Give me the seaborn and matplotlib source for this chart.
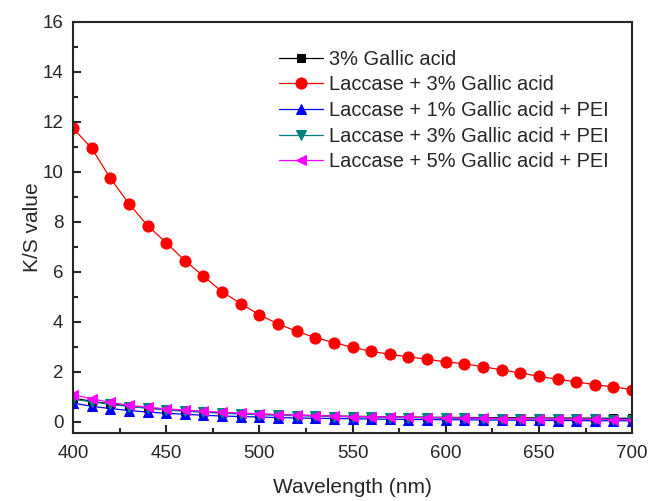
import numpy as np
import pandas as pd
import matplotlib
matplotlib.use("Agg")
import matplotlib.pyplot as plt
import seaborn as sns
from matplotlib.ticker import MultipleLocator

# wavelengths (nm)
wavelength = list(range(400, 701, 10))

# K/S values
ga3 = [0.95, 0.82, 0.72, 0.63, 0.55, 0.49, 0.44, 0.40, 0.36, 0.33, 0.30,
       0.28, 0.26, 0.25, 0.23, 0.22, 0.21, 0.20, 0.19, 0.18, 0.18, 0.17,
       0.17, 0.16, 0.16, 0.15, 0.15, 0.15, 0.14, 0.14, 0.14]
lac_ga3 = [11.75, 10.95, 9.75, 8.73, 7.85, 7.17, 6.45, 5.83, 5.20, 4.73, 4.28,
           3.92, 3.62, 3.37, 3.17, 2.98, 2.82, 2.70, 2.60, 2.50, 2.40, 2.32,
           2.20, 2.08, 1.95, 1.82, 1.70, 1.60, 1.48, 1.40, 1.28]
lac_ga1_pei = [0.75, 0.62, 0.53, 0.45, 0.39, 0.34, 0.30, 0.26, 0.23, 0.21, 0.19,
               0.17, 0.15, 0.14, 0.13, 0.12, 0.11, 0.10, 0.09, 0.09, 0.08, 0.08,
               0.07, 0.07, 0.06, 0.06, 0.05, 0.05, 0.04, 0.04, 0.04]
lac_ga3_pei = [0.90, 0.80, 0.70, 0.61, 0.54, 0.47, 0.42, 0.38, 0.34, 0.31, 0.28,
               0.26, 0.24, 0.22, 0.21, 0.19, 0.18, 0.17, 0.16, 0.15, 0.14, 0.14,
               0.13, 0.12, 0.12, 0.11, 0.11, 0.10, 0.10, 0.09, 0.09]
lac_ga5_pei = [1.08, 0.92, 0.78, 0.66, 0.58, 0.52, 0.47, 0.42, 0.38, 0.35, 0.32,
               0.29, 0.27, 0.25, 0.23, 0.21, 0.20, 0.19, 0.18, 0.17, 0.16, 0.15,
               0.14, 0.13, 0.12, 0.12, 0.11, 0.10, 0.10, 0.09, 0.09]

labels = ["3% Gallic acid", "Laccase + 3% Gallic acid",
          "Laccase + 1% Gallic acid + PEI", "Laccase + 3% Gallic acid + PEI",
          "Laccase + 5% Gallic acid + PEI"]
series = [ga3, lac_ga3, lac_ga1_pei, lac_ga3_pei, lac_ga5_pei]
colors = ["#000000", "#ff0000", "#0000ff", "#008080", "#ff00ff"]
markers = ["s", "o", "^", "v", "<"]
msizes = [6, 8, 7.5, 7.5, 7.5]

sns.set_style("ticks")
plt.rcParams["font.family"] = ["Liberation Sans", "DejaVu Sans"]

fig = plt.figure(figsize=(6.49, 5.01), dpi=100)
ax = fig.add_axes([0.1125, 0.1357, 0.8615, 0.8204])

for lab, vals, c, m, ms in zip(labels, series, colors, markers, msizes):
    df = pd.DataFrame({"Wavelength": wavelength, "KS": vals})
    sns.lineplot(data=df, x="Wavelength", y="KS", ax=ax, color=c, marker=m,
                 markersize=ms, markeredgecolor=c, linewidth=0.9, label=lab)

ax.set_xlim(400, 700)
ax.set_ylim(-0.45, 16)
ax.xaxis.set_major_locator(MultipleLocator(50))
ax.xaxis.set_minor_locator(MultipleLocator(25))
ax.yaxis.set_major_locator(MultipleLocator(2))
ax.yaxis.set_minor_locator(MultipleLocator(1))
ax.tick_params(which="both", direction="in", top=False, right=False,
               labelsize=13.5, width=1.5, pad=7)
ax.tick_params(axis="x", pad=8.5)
ax.tick_params(which="major", length=6)
ax.tick_params(which="minor", length=3.5)
for s in ax.spines.values():
    s.set_linewidth(1.5)

ax.set_xlabel("Wavelength (nm)", fontsize=15, labelpad=12)
ax.set_ylabel("K/S value", fontsize=15, labelpad=0.5)

ax.legend(loc="upper left", bbox_to_anchor=(0.355, 0.952), frameon=False,
          fontsize=14.4, handlelength=2.2, handletextpad=0.3, labelspacing=0.33,
          borderaxespad=0)

fig.savefig("out.png", dpi=100)
